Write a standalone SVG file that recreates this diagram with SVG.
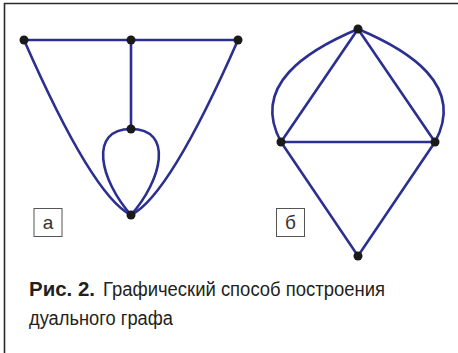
<svg xmlns="http://www.w3.org/2000/svg" width="458" height="353" viewBox="0 0 458 353">
<style>
.e{fill:none;stroke:#2b2f8f;stroke-width:2.6;stroke-linecap:round}
.n{fill:#1a1a1a}
.box{fill:#fff;stroke:#555;stroke-width:1}
.lbl{font-family:"Liberation Sans",Arial,sans-serif;font-size:19px;fill:#333;text-anchor:middle}
.cap{font-family:"Liberation Sans",Arial,sans-serif;font-size:20px;fill:#231f20}
</style>
<rect width="458" height="353" fill="#fff"/>
<g id="frame" fill="none" stroke="#2a2a2a" stroke-width="1.6">
<path d="M4.5,353 V3.5 H458"/>
</g>
<g id="connectors">
<path class="e" d="M24,40 H238"/>
<path class="e" d="M131,40 V129"/>
<path class="e" d="M24,40 Q92.5,196 131,215"/>
<path class="e" d="M238,40 Q169.5,196 131,215"/>
<path class="e" d="M131,215 C100,180 88,129 131,129 C174,129 162,180 131,215"/>
<path class="e" d="M358,29 L281,142 H435 Z"/>
<path class="e" d="M281,142 L358,256 L435,142"/>
<path class="e" d="M358,29 C308,50 250,85 281,142"/>
<path class="e" d="M358,29 C408,50 466,85 435,142"/>
</g>
<g id="a1"><circle class="n" cx="24" cy="40" r="4.5"/></g>
<g id="a2"><circle class="n" cx="131" cy="40" r="4.5"/></g>
<g id="a3"><circle class="n" cx="238" cy="40" r="4.5"/></g>
<g id="a4"><circle class="n" cx="131" cy="129" r="4.5"/></g>
<g id="a5"><circle class="n" cx="131" cy="215" r="4.5"/></g>
<g id="b1"><circle class="n" cx="358" cy="29" r="4.5"/></g>
<g id="b2"><circle class="n" cx="281" cy="142" r="4.5"/></g>
<g id="b3"><circle class="n" cx="435" cy="142" r="4.5"/></g>
<g id="b4"><circle class="n" cx="358" cy="256" r="4.5"/></g>
<g id="label-a">
<rect class="box" x="34" y="208.5" width="28" height="28"/>
<text class="lbl" x="48" y="228.5">а</text>
</g>
<g id="label-b">
<rect class="box" x="276.5" y="208.5" width="28" height="28"/>
<text class="lbl" x="290.5" y="228.5">б</text>
</g>
<g id="caption">
<text class="cap" x="29" y="295.5" font-weight="bold" textLength="66" lengthAdjust="spacingAndGlyphs">Рис. 2.</text>
<text class="cap" x="103" y="295.5" textLength="282" lengthAdjust="spacingAndGlyphs">Графический способ построения</text>
<text class="cap" x="29" y="325" textLength="144" lengthAdjust="spacingAndGlyphs">дуального графа</text>
</g>
</svg>
